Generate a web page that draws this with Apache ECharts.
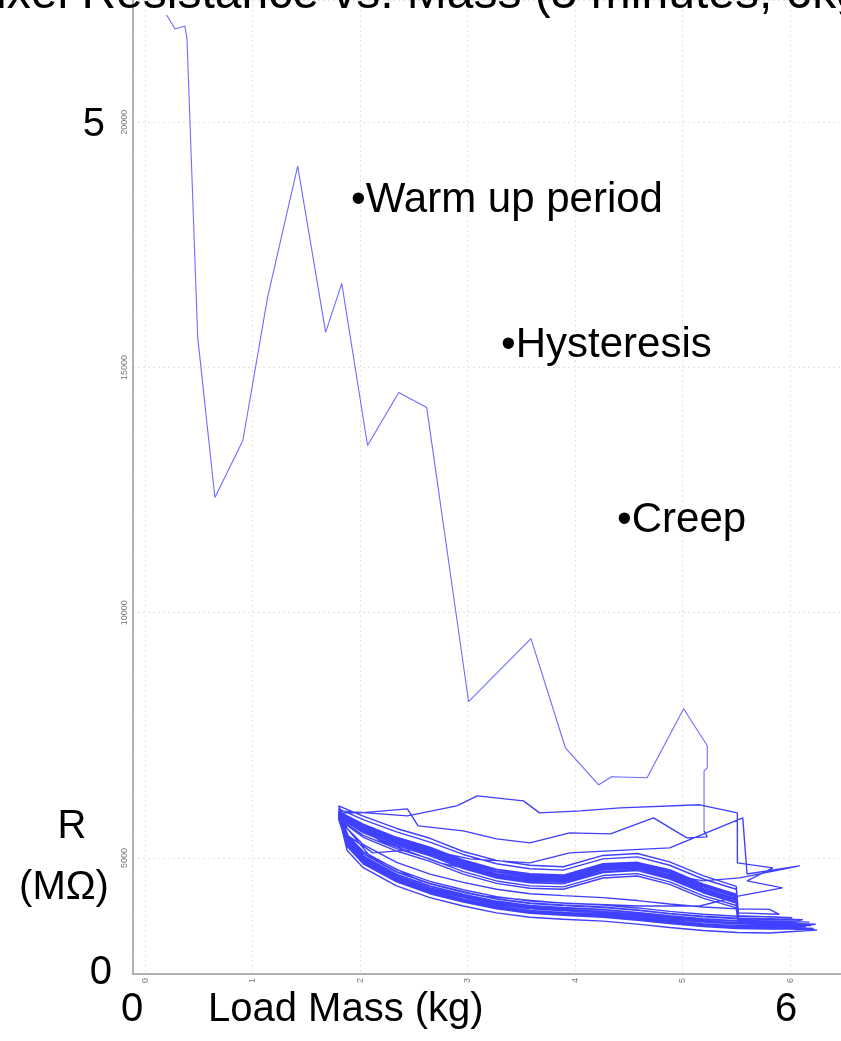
<!DOCTYPE html>
<html>
<head>
<meta charset="utf-8">
<title>Pixel Resistance vs. Mass</title>
<script src="https://cdn.jsdelivr.net/npm/echarts@6.0.0/dist/echarts.min.js"></script>
<style>
    html, body { margin: 0; padding: 0; background: #fff; }
    #chart { width: 841px; height: 1041px; }
</style>
</head>
<body>
<div id="chart"></div>
<script>
// warm-up trace: [load kg, resistance]
const warmUp = [
    [0.20, 22184], [0.28, 21898], [0.37, 21959], [0.39, 21714], [0.49, 15612],
    [0.65, 12347], [0.91, 13510], [1.14, 16429], [1.42, 19102], [1.68, 15714],
    [1.83, 16714], [2.07, 13408], [2.36, 14490], [2.62, 14184], [3.01, 8184],
    [3.59, 9469], [3.91, 7245], [4.22, 6490], [4.34, 6653], [4.67, 6633],
    [5.01, 8041], [5.23, 7286], [5.23, 6837], [5.20, 6776], [5.20, 5551]
];

// first settling cycles after warm-up (creep, wider loops)
const settleCycle = [
    [5.20, 5551], [5.23, 5429], [5.04, 5408], [4.73, 5816], [4.33, 5490], [3.95, 5510],
    [3.58, 5306], [3.27, 5388], [2.96, 5551], [2.54, 5653], [2.44, 6000],
    [2.00, 5918], [1.81, 5918], [1.89, 5449], [2.12, 5102], [2.59, 5184],
    [3.02, 4980], [3.58, 4898], [3.95, 5102], [4.88, 5204], [5.56, 5816],
    [5.60, 4673], [6.09, 4837], [5.53, 4592], [5.19, 4531], [4.60, 4776],
    [4.23, 4694], [3.86, 4531], [3.30, 4633], [2.74, 4898], [2.19, 5347],
    [1.86, 5796]
];

const topCycle = [
    [1.81, 5959], [2.44, 5857], [2.90, 6061], [3.09, 6265], [3.52, 6163],
    [3.67, 5918], [4.05, 5959], [4.42, 6020], [5.16, 6082], [5.51, 5918],
    [5.51, 4898], [5.84, 4796], [5.60, 4531], [5.93, 4388], [5.53, 4225],
    [5.16, 4020], [4.60, 4020], [3.86, 4082], [3.12, 4225], [2.56, 4531],
    [2.09, 5041], [1.86, 5653]
];

// repeated load cycles: loads of each sweep
const upperLoad = [1.80, 2.03, 2.34, 2.65, 2.96, 3.27, 3.58, 3.89, 4.26, 4.58, 4.88, 5.19, 5.50];
const lowerLoad = [5.81, 5.51, 5.19, 4.88, 4.58, 4.26, 3.89, 3.58, 3.27, 2.96, 2.65, 2.34, 2.03, 1.88];
const dropLoad = 5.52;

const upperR1 = [6060, 5850, 5600, 5400, 5130, 4950, 4850, 4820, 5050, 5090, 4920, 4640, 4420];
const upperR2 = [6000, 5780, 5530, 5320, 5070, 4880, 4780, 4750, 4980, 5020, 4850, 4570, 4360];
const upperR3 = [5940, 5670, 5410, 5200, 4940, 4760, 4650, 4630, 4860, 4900, 4730, 4450, 4240];
const upperR4 = [5925, 5630, 5370, 5160, 4900, 4710, 4610, 4590, 4820, 4860, 4690, 4410, 4200];
const upperR5 = [5900, 5600, 5340, 5130, 4870, 4680, 4580, 4560, 4790, 4830, 4660, 4380, 4170];
const upperR6 = [5880, 5570, 5300, 5100, 4840, 4650, 4550, 4530, 4750, 4800, 4630, 4350, 4140];
const upperR7 = [5860, 5540, 5280, 5070, 4810, 4620, 4520, 4500, 4720, 4770, 4600, 4320, 4110];
const upperR8 = [5840, 5510, 5250, 5040, 4780, 4590, 4490, 4470, 4700, 4740, 4570, 4290, 4080];
const upperR9 = [5790, 5420, 5140, 4930, 4670, 4480, 4380, 4360, 4590, 4630, 4460, 4180, 3980];
const upperR10 = [5870, 5580, 5320, 5110, 4850, 4660, 4560, 4540, 4770, 4810, 4640, 4360, 4150];
const upperR11 = [5950, 5690, 5420, 5220, 4960, 4770, 4680, 4650, 4880, 4910, 4760, 4470, 4260];
const upperR12 = [5890, 5590, 5330, 5120, 4860, 4680, 4570, 4550, 4780, 4820, 4650, 4370, 4160];
const upperR13 = [5810, 5460, 5190, 4980, 4720, 4530, 4430, 4410, 4640, 4680, 4510, 4230, 4030];
const upperR14 = [5930, 5650, 5390, 5180, 4920, 4730, 4630, 4610, 4840, 4880, 4710, 4430, 4220];

const lowerR1 = [3950, 3960, 4000, 4060, 4130, 4190, 4230, 4270, 4360, 4500, 4670, 4910, 5270, 5600];
const lowerR2 = [3800, 3810, 3850, 3910, 3980, 4040, 4080, 4120, 4210, 4350, 4520, 4760, 5130, 5470];
const lowerR3 = [3750, 3760, 3800, 3860, 3930, 3990, 4030, 4070, 4160, 4300, 4470, 4710, 5080, 5420];
const lowerR4 = [3710, 3720, 3760, 3820, 3890, 3950, 3990, 4030, 4120, 4260, 4430, 4670, 5040, 5380];
const lowerR5 = [3670, 3680, 3720, 3780, 3850, 3910, 3950, 3990, 4080, 4225, 4390, 4630, 5000, 5350];
const lowerR6 = [3640, 3650, 3690, 3750, 3820, 3880, 3920, 3960, 4050, 4190, 4360, 4600, 4970, 5320];
const lowerR7 = [3610, 3620, 3660, 3720, 3790, 3850, 3890, 3930, 4020, 4160, 4330, 4570, 4940, 5290];
const lowerR8 = [3570, 3580, 3620, 3680, 3750, 3810, 3850, 3890, 3980, 4120, 4290, 4530, 4900, 5250];
const lowerR9 = [3470, 3480, 3520, 3580, 3650, 3710, 3750, 3790, 3880, 4020, 4190, 4430, 4800, 5150];
const lowerR10 = [3590, 3600, 3640, 3700, 3770, 3830, 3870, 3910, 4000, 4140, 4310, 4550, 4920, 5270];
const lowerR11 = [3760, 3770, 3810, 3870, 3940, 4000, 4040, 4080, 4170, 4310, 4480, 4720, 5090, 5430];
const lowerR12 = [3660, 3670, 3710, 3770, 3840, 3900, 3940, 3980, 4070, 4210, 4380, 4620, 4990, 5340];
const lowerR13 = [3550, 3560, 3600, 3660, 3730, 3790, 3830, 3870, 3960, 4100, 4270, 4510, 4880, 5230];
const lowerR14 = [3700, 3710, 3750, 3810, 3880, 3940, 3980, 4020, 4110, 4250, 4420, 4660, 5030, 5370];

const dropR = [3880, 3820, 3760, 3730, 3700, 3680, 3650, 3620, 3590, 3640, 3770, 3690, 3600, 3720];
const turnLoad = [5.90, 6.02, 6.10, 6.18, 6.24, 6.20, 6.15, 6.22, 6.25, 6.05, 6.12, 6.23, 6.21, 6.08];
const turnR = [3850, 3780, 3730, 3690, 3650, 3620, 3600, 3560, 3530, 3600, 3740, 3640, 3560, 3690];

const upperSweeps = [upperR1, upperR2, upperR3, upperR4, upperR5, upperR6, upperR7,
    upperR8, upperR9, upperR10, upperR11, upperR12, upperR13, upperR14];
const lowerSweeps = [lowerR1, lowerR2, lowerR3, lowerR4, lowerR5, lowerR6, lowerR7,
    lowerR8, lowerR9, lowerR10, lowerR11, lowerR12, lowerR13, lowerR14];

const xTicks = ["0", "1", "2", "3", "4", "5", "6"];

const buildCycle = (i) => {
    const pts = upperLoad.map((x, k) => [x, upperSweeps[i][k]]);
    pts.push([dropLoad, dropR[i]]);
    pts.push([turnLoad[i], turnR[i]]);
    lowerLoad.forEach((x, k) => pts.push([x, lowerSweeps[i][k]]));
    return pts;
};

let cycles = settleCycle.slice();
upperSweeps.forEach((_, i) => {
    cycles = cycles.concat(buildCycle(i));
    if (i === 1) {
        cycles = cycles.concat(topCycle);
    }
});

const FONT = "'Liberation Sans', Arial, sans-serif";
const bigText = (text, x, y, size, align) => ({
    type: "text",
    x: x,
    y: y,
    style: {
        text: text,
        fill: "#000",
        font: `${size}px ${FONT}`,
        textAlign: align || "left",
        textVerticalAlign: "middle"
    },
    z: 100
});

const chart = echarts.init(document.getElementById("chart"), null, { renderer: "canvas" });
chart.setOption({
    animation: false,
    backgroundColor: "#fff",
    grid: { left: 133, right: 0, top: 0, bottom: 67, containLabel: false },
    xAxis: {
        type: "value",
        min: -0.112,
        max: 6.474,
        splitNumber: 6,
        axisLine: { onZero: false, lineStyle: { color: "#9a9a9a", width: 1.5 } },
        axisTick: { show: false },
        axisLabel: {
            showMinLabel: false,
            showMaxLabel: false,
            rotate: 90,
            fontSize: 9,
            color: "#777",
            margin: 4,
            formatter: (v) => (xTicks.includes(String(v)) ? String(v) : "")
        },
        splitLine: { show: true, lineStyle: { color: "#e2e2e2", type: [2, 3], width: 1 } }
    },
    yAxis: {
        type: "value",
        min: 2633,
        max: 22490,
        splitNumber: 4,
        axisLine: { show: true, onZero: false, lineStyle: { color: "#9a9a9a", width: 1.5 } },
        axisTick: { show: false },
        axisLabel: {
            showMinLabel: false,
            showMaxLabel: false,
            rotate: 90,
            fontSize: 9,
            color: "#777",
            margin: 4,
            formatter: (v) => String(v)
        },
        splitLine: { show: true, lineStyle: { color: "#e2e2e2", type: [2, 3], width: 1 } }
    },
    series: [{
        type: "line",
        data: warmUp,
        showSymbol: false,
        symbol: "none",
        lineStyle: { color: "#5c5cff", width: 1.1, opacity: 0.9 },
        z: 5
    }, {
        type: "line",
        data: cycles,
        showSymbol: false,
        symbol: "none",
        lineStyle: { color: "#1f1fff", width: 1.4, opacity: 0.85 },
        z: 6
    }],
    graphic: [
        bigText("Pixel Resistance vs. Mass (5 minutes, 6kg)", -36, -5, 48),
        bigText("5", 105, 125, 40, "right"),
        bigText("\u2022Warm up period", 351, 200, 42),
        bigText("\u2022Hysteresis", 501, 345, 42),
        bigText("\u2022Creep", 617, 520, 42),
        bigText("R", 72, 827, 40, "center"),
        bigText("(M\u03a9)", 64, 888, 40, "center"),
        bigText("0", 112, 973, 40, "right"),
        bigText("0", 132, 1010, 40, "center"),
        bigText("Load Mass (kg)", 208, 1010, 40),
        bigText("6", 786, 1010, 40, "center")
    ]
});
</script>
</body>
</html>
